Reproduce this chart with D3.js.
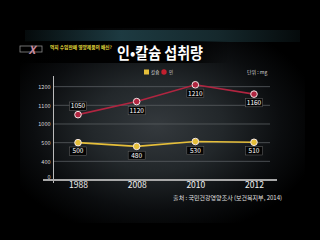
<!DOCTYPE html>
<html>
<head>
<meta charset="utf-8">
<script src="https://cdnjs.cloudflare.com/ajax/libs/d3/7.8.5/d3.min.js"></script>
<style>
  body { margin: 0; background: #000; }
  svg { display: block; }
  text { font-family: "Noto Sans CJK KR", "Noto Sans", sans-serif; }
</style>
</head>
<body>
<svg id="chart" width="320" height="240"></svg>
<script>
const years = ['1988', '2008', '2010', '2012'];
const calcium = [500, 480, 530, 510];      // 칼슘
const phosphorus = [1050, 1120, 1210, 1160]; // 인
const yTicks = [0, 400, 500, 1000, 1100, 1200];

const svg = d3.select('#chart');
const width = +svg.attr('width');
const height = +svg.attr('height');

const defs = svg.append('defs');

// background panel glow
const bg = defs.append('radialGradient').attr('id', 'panel')
  .attr('cx', '48%').attr('cy', '50%').attr('r', '58%');
bg.append('stop').attr('offset', '0%').attr('stop-color', '#34393d');
bg.append('stop').attr('offset', '40%').attr('stop-color', '#22272a');
bg.append('stop').attr('offset', '75%').attr('stop-color', '#0b0d0f');
bg.append('stop').attr('offset', '100%').attr('stop-color', '#000');

const band = defs.append('linearGradient').attr('id', 'band')
  .attr('x1', 0).attr('x2', 1).attr('y1', 0).attr('y2', 0);
band.append('stop').attr('offset', '0%').attr('stop-color', '#050a0b');
band.append('stop').attr('offset', '35%').attr('stop-color', '#1d3a41');
band.append('stop').attr('offset', '70%').attr('stop-color', '#15282c');
band.append('stop').attr('offset', '100%').attr('stop-color', '#050a0b');

const bar = defs.append('linearGradient').attr('id', 'bar')
  .attr('x1', 0).attr('x2', 1).attr('y1', 0).attr('y2', 0);
bar.append('stop').attr('offset', '0%').attr('stop-color', '#000').attr('stop-opacity', 0.3);
bar.append('stop').attr('offset', '10%').attr('stop-color', '#000').attr('stop-opacity', 0.95);
bar.append('stop').attr('offset', '80%').attr('stop-color', '#000').attr('stop-opacity', 0.95);
bar.append('stop').attr('offset', '100%').attr('stop-color', '#000').attr('stop-opacity', 0);

svg.append('rect').attr('width', width).attr('height', height).attr('fill', '#000');
svg.append('rect').attr('x', 20).attr('y', 28).attr('width', 285).attr('height', 195)
  .attr('fill', 'url(#panel)');
svg.append('rect').attr('x', 25).attr('y', 30).attr('width', 275).attr('height', 12)
  .attr('fill', 'url(#band)');
svg.append('rect').attr('x', 15).attr('y', 41).attr('width', 215).attr('height', 22)
  .attr('fill', 'url(#bar)');

// logo + subtitle
svg.append('rect').attr('x', 20).attr('y', 46).attr('width', 22).attr('height', 6)
  .attr('fill', 'none').attr('stroke', '#8a8a8a').attr('stroke-width', 0.8);
svg.append('text').attr('x', 32).attr('y', 54)
  .attr('text-anchor', 'middle').attr('font-size', 11).attr('font-weight', 'bold')
  .attr('fill', '#c98aa0').attr('font-style', 'italic').text('X');
svg.append('text').attr('x', 50).attr('y', 48.5)
  .attr('font-size', 4.5).attr('font-weight', 'bold').attr('fill', '#e8dc3c')
  .attr('textLength', 62).attr('lengthAdjust', 'spacingAndGlyphs')
  .text('먹지 수입판매 영양제품의 배신?');

// title
svg.append('text').attr('x', 160).attr('y', 58.5)
  .attr('text-anchor', 'middle').attr('font-size', 15.5).attr('font-weight', 'bold')
  .attr('fill', '#fff').attr('textLength', 86).attr('lengthAdjust', 'spacingAndGlyphs')
  .text('인•칼슘 섭취량');

// scales
const x = d3.scalePoint().domain(years).range([78, 254]);
const yStep = 18.67, yBase = 180;
const y = d3.scaleLinear().domain(yTicks).range(yTicks.map((d, i) => yBase - i * yStep));

const g = svg.append('g');

// gridlines
g.selectAll('.grid').data(yTicks.slice(1)).enter().append('line')
  .attr('x1', 53).attr('x2', 270)
  .attr('y1', d => y(d)).attr('y2', d => y(d))
  .attr('stroke', '#585d61').attr('stroke-width', 0.8);

// y axis
const yAxis = d3.axisLeft(y).tickValues(yTicks).tickFormat(d3.format('d'))
  .tickSize(0).tickPadding(3);
const yAxisG = g.append('g').attr('transform', 'translate(53.5,0)').call(yAxis);
yAxisG.select('.domain').remove();
yAxisG.selectAll('text').attr('fill', '#d8d8d8').attr('font-size', 5.5)
  .attr('font-family', 'Liberation Sans, Arial, sans-serif');
yAxisG.selectAll('.tick').filter(d => d === 0).select('text').attr('dy', '-0.2em');
g.append('line').attr('x1', 53.5).attr('x2', 53.5).attr('y1', 76).attr('y2', 183)
  .attr('stroke', '#bbb').attr('stroke-width', 1);

// x axis
const xAxis = d3.axisBottom(x).tickSize(0).tickPadding(2);
const xAxisG = g.append('g').attr('transform', `translate(0,${yBase})`).call(xAxis);
xAxisG.select('.domain').remove();
xAxisG.selectAll('text').attr('fill', '#f0f0f0').attr('font-size', 8.5)
  .attr('font-family', 'Liberation Sans, Arial, sans-serif');
g.append('line').attr('x1', 43).attr('x2', 277).attr('y1', yBase).attr('y2', yBase)
  .attr('stroke', '#a8a8a8').attr('stroke-width', 1.8);

// series
const series = [
  { name: '인', values: phosphorus, color: '#b02540', labelDy: [-8.5, 9, 8.5, 8.5] },
  { name: '칼슘', values: calcium, color: '#e6bf3a', labelDy: [8.5, 9, 9, 8.5] }
];

const line = d3.line().x((d, i) => x(years[i])).y(d => y(d));

series.forEach(s => {
  const sg = g.append('g');
  sg.append('path').datum(s.values).attr('d', line)
    .attr('fill', 'none').attr('stroke', s.color).attr('stroke-width', 1.6);
  sg.selectAll('circle').data(s.values).enter().append('circle')
    .attr('cx', (d, i) => x(years[i])).attr('cy', d => y(d)).attr('r', 3.3)
    .attr('fill', s.color).attr('stroke', '#f2e6e6').attr('stroke-width', 1);
  const lab = sg.selectAll('.lab').data(s.values).enter().append('g')
    .attr('transform', (d, i) => `translate(${x(years[i])},${y(d) + s.labelDy[i]})`);
  lab.append('rect').attr('x', -8.5).attr('y', -4.2).attr('width', 17).attr('height', 8.4)
    .attr('fill', '#050505').attr('stroke', '#6a6a6a').attr('stroke-width', 0.5);
  lab.append('text').attr('text-anchor', 'middle').attr('dy', '0.35em')
    .attr('font-size', 6.5).attr('fill', '#fff')
    .attr('font-family', 'Liberation Sans, Arial, sans-serif')
    .text(d => d);
});

// legend
const legend = g.append('g').attr('transform', 'translate(144,72)');
legend.append('rect').attr('x', 0).attr('y', -2.5).attr('width', 5).attr('height', 5)
  .attr('fill', '#e6bf3a');
legend.append('text').attr('x', 7).attr('dy', '0.35em').attr('font-size', 4.5)
  .attr('fill', '#ccc').text('칼슘');
legend.append('circle').attr('cx', 20).attr('cy', 0).attr('r', 2.7)
  .attr('fill', '#c2202f');
legend.append('text').attr('x', 25).attr('dy', '0.35em').attr('font-size', 4.5)
  .attr('fill', '#ccc').text('인');

svg.append('text').attr('x', 247).attr('y', 74).attr('font-size', 5)
  .attr('fill', '#ddd').text('단위 : mg');

// source
svg.append('text').attr('x', 282).attr('y', 200).attr('text-anchor', 'end')
  .attr('font-size', 6).attr('fill', '#e0e0e0')
  .text('출처 : 국민건강영양조사 (보건복지부, 2014)');
</script>
</body>
</html>
